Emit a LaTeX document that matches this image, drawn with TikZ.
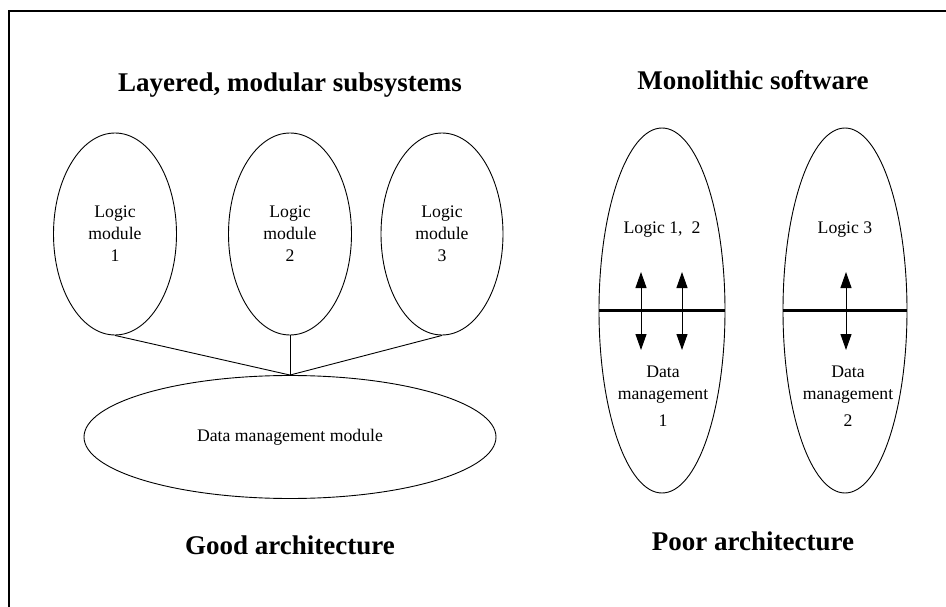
\documentclass[tikz,border=0pt]{standalone}
\usepackage{fontspec}
\setmainfont{Liberation Serif}
\usetikzlibrary{shapes.geometric,arrows.meta}
\begin{document}
\begin{tikzpicture}[x=1pt,y=-1pt,
  oval/.style={draw,ellipse,line width=0.9pt,inner sep=0pt},
  lbl/.style={font=\fontsize{17.7}{22}\selectfont,align=center,inner sep=0pt},
  ttl/.style={font=\fontsize{27}{32}\selectfont\bfseries,inner sep=0pt},
  link/.style={line width=0.9pt},
  split/.style={line width=2.4pt},
  dual/.style={line width=1pt,{Triangle[length=16pt,width=11pt]}-{Triangle[length=16pt,width=11pt]}}
]
\useasboundingbox (0,0) rectangle (946,607);
\clip (0,0) rectangle (946,607);
% frame, open at the right and bottom edges
\draw[line width=2pt] (9,11) rectangle (990,650);

% titles
\node[ttl] (t1) at (290,85) {Layered, modular subsystems};
\node[ttl] (t2) at (753,80) {Monolithic software};
\node[ttl] (t3) at (290,545) {Good architecture};
\node[ttl] (t4) at (753,541) {Poor architecture};

% layered side
\node[oval,lbl,minimum width=123pt,minimum height=202pt] (lm1) at (115,234) {Logic\\module\\1};
\node[oval,lbl,minimum width=123pt,minimum height=202pt] (lm2) at (290,234) {Logic\\module\\2};
\node[oval,lbl,minimum width=122pt,minimum height=202pt] (lm3) at (442,234) {Logic\\module\\3};
\node[oval,lbl,minimum width=412pt,minimum height=123pt] (dm) at (290,437) {Data management module};
\draw[link] (lm1.south) -- (dm.north);
\draw[link] (lm2.south) -- (dm.north);
\draw[link] (lm3.south) -- (dm.north);

% monolithic side
\node[oval,minimum width=126pt,minimum height=365pt] (mo1) at (662,310.5) {};
\node[oval,minimum width=124pt,minimum height=365pt] (mo2) at (845,310.5) {};
\draw[split] (mo1.west) -- (mo1.east);
\draw[split] (mo2.west) -- (mo2.east);

\node[lbl] (lg1) at (662,230) {Logic 1,\ \ 2};
\node[lbl] (lg2) at (845,230) {Logic 3};
\node[lbl] (dt1) at (663,396) {Data\\management\\[5pt]1};
\node[lbl] (dt2) at (848,396) {Data\\management\\[5pt]2};

\coordinate (a1t) at (641,272);
\coordinate (a1b) at (641,350);
\coordinate (a2t) at (682,272);
\coordinate (a2b) at (682,350);
\coordinate (a3t) at (846,272);
\coordinate (a3b) at (846,350);
\draw[dual] (a1t) -- (a1b);
\draw[dual] (a2t) -- (a2b);
\draw[dual] (a3t) -- (a3b);
\end{tikzpicture}
\end{document}
